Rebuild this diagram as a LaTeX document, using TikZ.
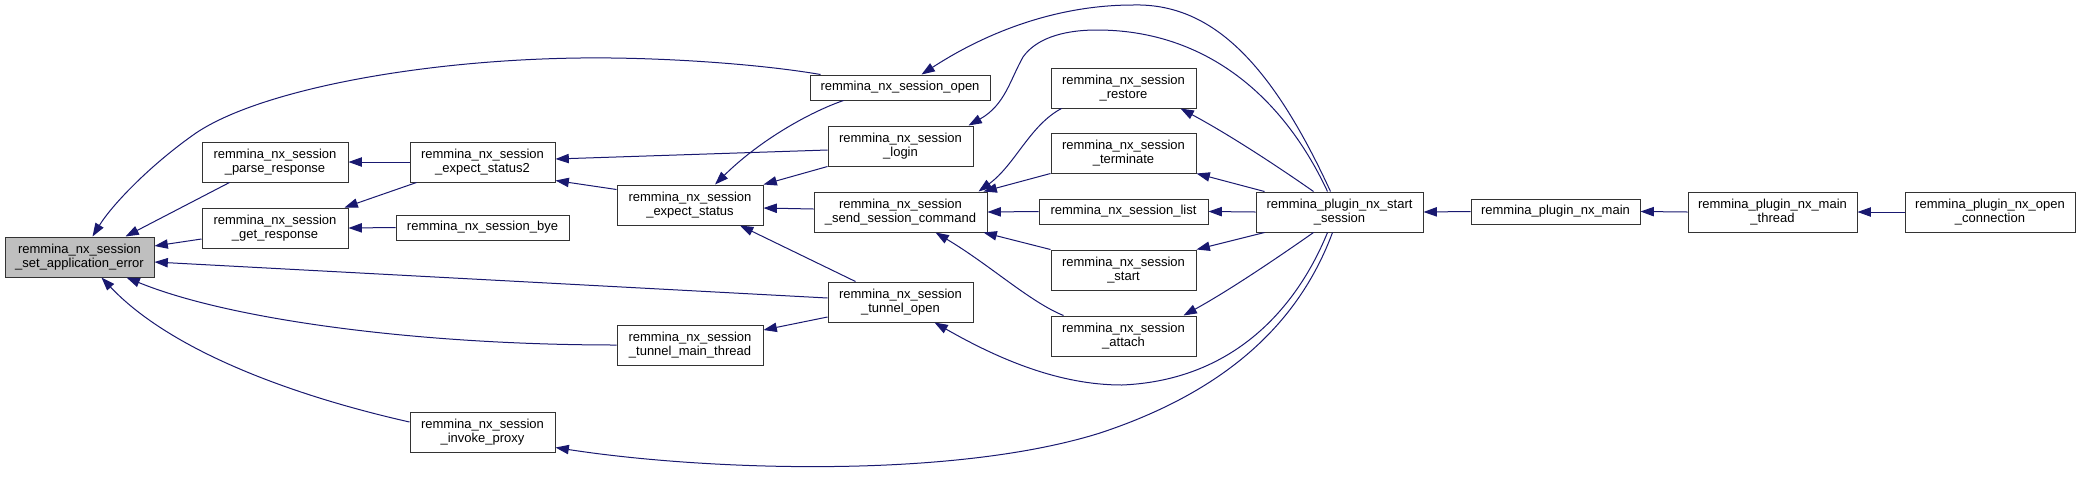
\documentclass[tikz,border=0pt]{standalone}
\usepackage{fontspec}
\setmainfont{Liberation Sans}
\usetikzlibrary{arrows.meta,calc}
\definecolor{edgeblue}{HTML}{191970}
\definecolor{boxgray}{HTML}{BFBFBF}
\begin{document}
\begin{tikzpicture}[x=0.75pt,y=-0.75pt,
  box/.style={draw=black!80, line width=0.75pt, fill=white, inner sep=0pt, align=center,
    font=\fontsize{9.75}{10.9}\selectfont, minimum height=30pt},
  onebox/.style={box, minimum height=18.75pt},
  edge/.style={draw=edgeblue, line width=0.75pt, -{Triangle[length=10pt,width=7pt]}}
]
\useasboundingbox[fill=white] (0,0) rectangle (2080,476);

% nodes
\node[box, fill=boxgray, minimum width=111.75pt] (sae) at (79.5,257) {remmina\_nx\_session\\\_set\_application\_error};
\node[box, minimum width=109.5pt] (parse) at (275,162) {remmina\_nx\_session\\\_parse\_response};
\node[box, minimum width=109.5pt] (getr) at (275,228) {remmina\_nx\_session\\\_get\_response};
\node[box, minimum width=108.75pt] (es2) at (482.5,162) {remmina\_nx\_session\\\_expect\_status2};
\node[onebox, minimum width=129.75pt] (bye) at (482.5,227.5) {remmina\_nx\_session\_bye};
\node[box, minimum width=108.75pt] (inv) at (482.5,432) {remmina\_nx\_session\\\_invoke\_proxy};
\node[box, minimum width=109.5pt] (es) at (690,205) {remmina\_nx\_session\\\_expect\_status};
\node[box, minimum width=109.5pt] (tmt) at (690,345) {remmina\_nx\_session\\\_tunnel\_main\_thread};
\node[onebox, minimum width=135pt] (open) at (900,87.5) {remmina\_nx\_session\_open};
\node[box, minimum width=108.75pt] (login) at (900.5,146) {remmina\_nx\_session\\\_login};
\node[box, minimum width=129.75pt] (ssc) at (900.5,212) {remmina\_nx\_session\\\_send\_session\_command};
\node[box, minimum width=108.75pt] (topen) at (900.5,302) {remmina\_nx\_session\\\_tunnel\_open};
\node[box, minimum width=108.75pt] (restore) at (1123.5,88) {remmina\_nx\_session\\\_restore};
\node[box, minimum width=108.75pt] (term) at (1123.5,153) {remmina\_nx\_session\\\_terminate};
\node[onebox, minimum width=126.75pt] (list) at (1123.5,211.5) {remmina\_nx\_session\_list};
\node[box, minimum width=108.75pt] (start) at (1123.5,270) {remmina\_nx\_session\\\_start};
\node[box, minimum width=108.75pt] (attach) at (1123.5,336) {remmina\_nx\_session\\\_attach};
\node[box, minimum width=125.25pt] (pss) at (1339.5,212) {remmina\_plugin\_nx\_start\\\_session};
\node[onebox, minimum width=126.75pt] (main) at (1555.5,211.5) {remmina\_plugin\_nx\_main};
\node[box, minimum width=126.75pt] (mth) at (1772.5,212) {remmina\_plugin\_nx\_main\\\_thread};
\node[box, minimum width=127.5pt] (openc) at (1990,212) {remmina\_plugin\_nx\_open\\\_connection};

% edges into set_application_error
\draw[edge] ($(open.north west)+(11,0)$) .. controls (760,64) and (660,57) .. (580,58)
  .. controls (420,60) and (260,90) .. (196,133)
  .. controls (150,165) and (112,205) .. ($(sae.north)+(13,0)$);
\draw[edge] ($(parse.south west)+(28,0)$) -- ($(sae.north)+(46,0)$);
\draw[edge] ($(getr.west)+(0,11)$) -- ($(sae.east)+(0,-11)$);
\draw[edge] ($(topen.west)+(0,-4)$) -- ($(sae.east)+(0,5)$);
\draw[edge] (tmt.west) .. controls (420,345) and (230,320) .. ($(sae.south)+(47,0)$);
\draw[edge] ($(inv.west)+(0,-10)$) .. controls (290,395) and (170,350) .. ($(sae.south)+(22,0)$);

% second level
\draw[edge] (es2.west) -- (parse.east);
\draw[edge] ($(es2.south west)+(7,0)$) -- ($(getr.north east)+(-4,0)$);
\draw[edge] (bye.west) -- (getr.east);
\draw[edge] ($(login.west)+(0,4)$) -- ($(es2.east)+(0,-3)$);
\draw[edge] ($(es.north west)+(0,5)$) -- ($(es2.south east)+(0,-2)$);
\draw[edge] ($(open.south west)+(34,0)$) .. controls (810,112) and (760,140) .. ($(es.north)+(25,0)$);
\draw[edge] (login.south west) -- (es.north east);
\draw[edge] ($(ssc.west)+(0,-3)$) -- ($(es.east)+(0,3)$);
\draw[edge] ($(topen.north west)+(28,0)$) -- ($(es.south)+(50,0)$);
\draw[edge] ($(topen.west)+(0,15)$) -- ($(tmt.east)+(0,-15)$);

% from start_session
\draw[edge] ($(pss.north)+(-12,0)$) .. controls (1280,90) and (1200,30) .. (1097,30)
  .. controls (1060,30) and (1035,40) .. (1023,57)
  .. controls (1010,80) and (1005,105) .. ($(login.north east)+(-5,0)$);
\draw[edge] ($(pss.north)+(-9,0)$) .. controls (1270,60) and (1210,3) .. (1133,5)
  .. controls (1060,5) and (990,30) .. ($(open.north east)+(-69,0)$);
\draw[edge] ($(restore.south west)+(11,0)$) .. controls (1030,125) and (1015,165) .. ($(ssc.north east)+(-9,0)$);
\draw[edge] (term.south west) -- ($(ssc.north east)+(-4,0)$);
\draw[edge] (list.west) -- (ssc.east);
\draw[edge] (start.north west) -- ($(ssc.south east)+(-4,0)$);
\draw[edge] ($(attach.north west)+(13,0)$) .. controls (1030,302) and (990,265) .. ($(ssc.south)+(35,0)$);
\draw[edge] ($(pss.north)+(-26,0)$) .. controls (1280,168) and (1230,135) .. ($(restore.south east)+(-16,0)$);
\draw[edge] ($(pss.north west)+(9,0)$) -- (term.south east);
\draw[edge] (pss.west) -- (list.east);
\draw[edge] ($(pss.south west)+(9,0)$) -- (start.north east);
\draw[edge] ($(pss.south)+(-26,0)$) .. controls (1280,256) and (1230,290) .. ($(attach.north east)+(-13,0)$);
\draw[edge] ($(pss.south)+(-12,0)$) .. controls (1300,300) and (1240,380) .. (1122,385)
  .. controls (1060,385) and (1000,360) .. ($(topen.south east)+(-39,0)$);
\draw[edge] ($(pss.south)+(-7,0)$) .. controls (1300,320) and (1230,390) .. (1100,433)
  .. controls (950,480) and (700,470) .. ($(inv.south east)+(0,-5)$);

% right chain
\draw[edge] (main.west) -- (pss.east);
\draw[edge] (mth.west) -- (main.east);
\draw[edge] (openc.west) -- (mth.east);
\end{tikzpicture}
\end{document}
